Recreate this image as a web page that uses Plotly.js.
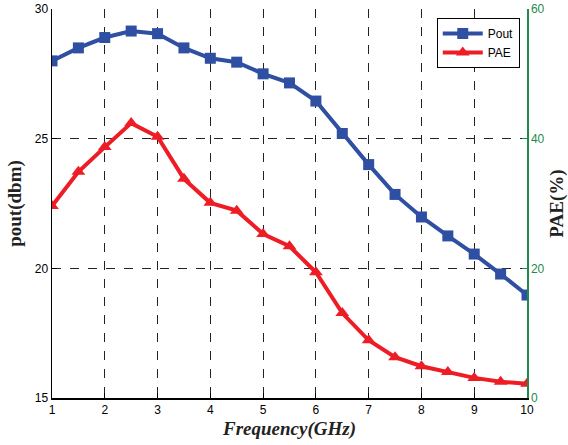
<!DOCTYPE html>
<html>
<head>
<meta charset="utf-8">
<script src="https://cdn.plot.ly/plotly-3.0.1.min.js"></script>
<style>body{margin:0;padding:0;background:#fff}#chart{width:568px;height:445px}</style>
</head>
<body>
<div id="chart"></div>
<script>
var freq = [1, 1.5, 2, 2.5, 3, 3.5, 4, 4.5, 5, 5.5, 6, 6.5, 7, 7.5, 8, 8.5, 9, 9.5, 10];
var pout = [28.0, 28.5, 28.9, 29.15, 29.05, 28.5, 28.1, 27.95, 27.5, 27.15, 26.45, 25.2, 24.0, 22.85, 21.98, 21.25, 20.55, 19.78, 18.97];
var pae = [29.6, 34.9, 38.7, 42.4, 40.3, 33.8, 30.1, 28.9, 25.3, 23.4, 19.4, 13.1, 8.9, 6.3, 4.9, 4.0, 3.1, 2.5, 2.2];
var xTicks = [1, 2, 3, 4, 5, 6, 7, 8, 9, 10];
var leftTicks = [15, 20, 25, 30];
var rightTicks = [0, 20, 40, 60];

var traces = [
  {x: freq, y: pout, name: 'Pout', type: 'scatter', mode: 'lines+markers',
   line: {color: '#2f4fa2', width: 4}, marker: {symbol: 'square', size: 11, color: '#2f4fa2'}},
  {x: freq, y: pae, name: 'PAE', type: 'scatter', mode: 'lines+markers', yaxis: 'y2',
   line: {color: '#ee1c25', width: 4}, marker: {symbol: 'triangle-up', size: 12, color: '#ee1c25'}}
];

var layout = {
  width: 568, height: 445,
  margin: {l: 52, r: 41, t: 9, b: 47},
  paper_bgcolor: '#fff', plot_bgcolor: '#fff',
  showlegend: true,
  legend: {x: 0.81, y: 0.977, xanchor: 'left', yanchor: 'top',
    bordercolor: '#000', borderwidth: 1, bgcolor: '#fff',
    font: {family: 'Liberation Sans, Arial', size: 12, color: '#000'},
    tracegroupgap: 0, itemwidth: 40},
  xaxis: {range: [1, 10], tickvals: xTicks, ticks: 'inside', ticklen: 5, tickcolor: '#000',
    showline: true, linecolor: '#000', linewidth: 1.5, mirror: false,
    showgrid: true, gridcolor: '#222', griddash: 'dash', gridwidth: 1, zeroline: false,
    tickfont: {family: 'Liberation Sans, Arial', size: 12, color: '#000'},
    title: {text: '<b><i>Frequency(GHz)</i></b>', font: {family: 'Liberation Serif, Times New Roman', size: 19, color: '#222'}, standoff: 6}},
  yaxis: {range: [15, 30], tickvals: leftTicks, ticks: 'inside', ticklen: 5, tickcolor: '#000',
    showline: true, linecolor: '#000', linewidth: 1.5,
    showgrid: true, gridcolor: '#222', griddash: 'dash', gridwidth: 1, zeroline: false,
    tickfont: {family: 'Liberation Sans, Arial', size: 12, color: '#000'},
    title: {text: '<b>pout(dbm)</b>', font: {family: 'Liberation Serif, Times New Roman', size: 19, color: '#222'}, standoff: 8}},
  yaxis2: {range: [0, 60], tickvals: rightTicks, overlaying: 'y', side: 'right', ticks: 'inside', ticklen: 5,
    tickcolor: '#1e8a4c', showline: true, linecolor: '#1e8a4c', linewidth: 1.5,
    showgrid: false, zeroline: false,
    tickfont: {family: 'Liberation Sans, Arial', size: 12, color: '#1e8a4c'},
    title: {text: '<b>PAE(%)</b>', font: {family: 'Liberation Serif, Times New Roman', size: 19, color: '#222'}, standoff: 8}}
};

Plotly.newPlot('chart', traces, layout, {displayModeBar: false, staticPlot: true});
</script>
</body>
</html>
